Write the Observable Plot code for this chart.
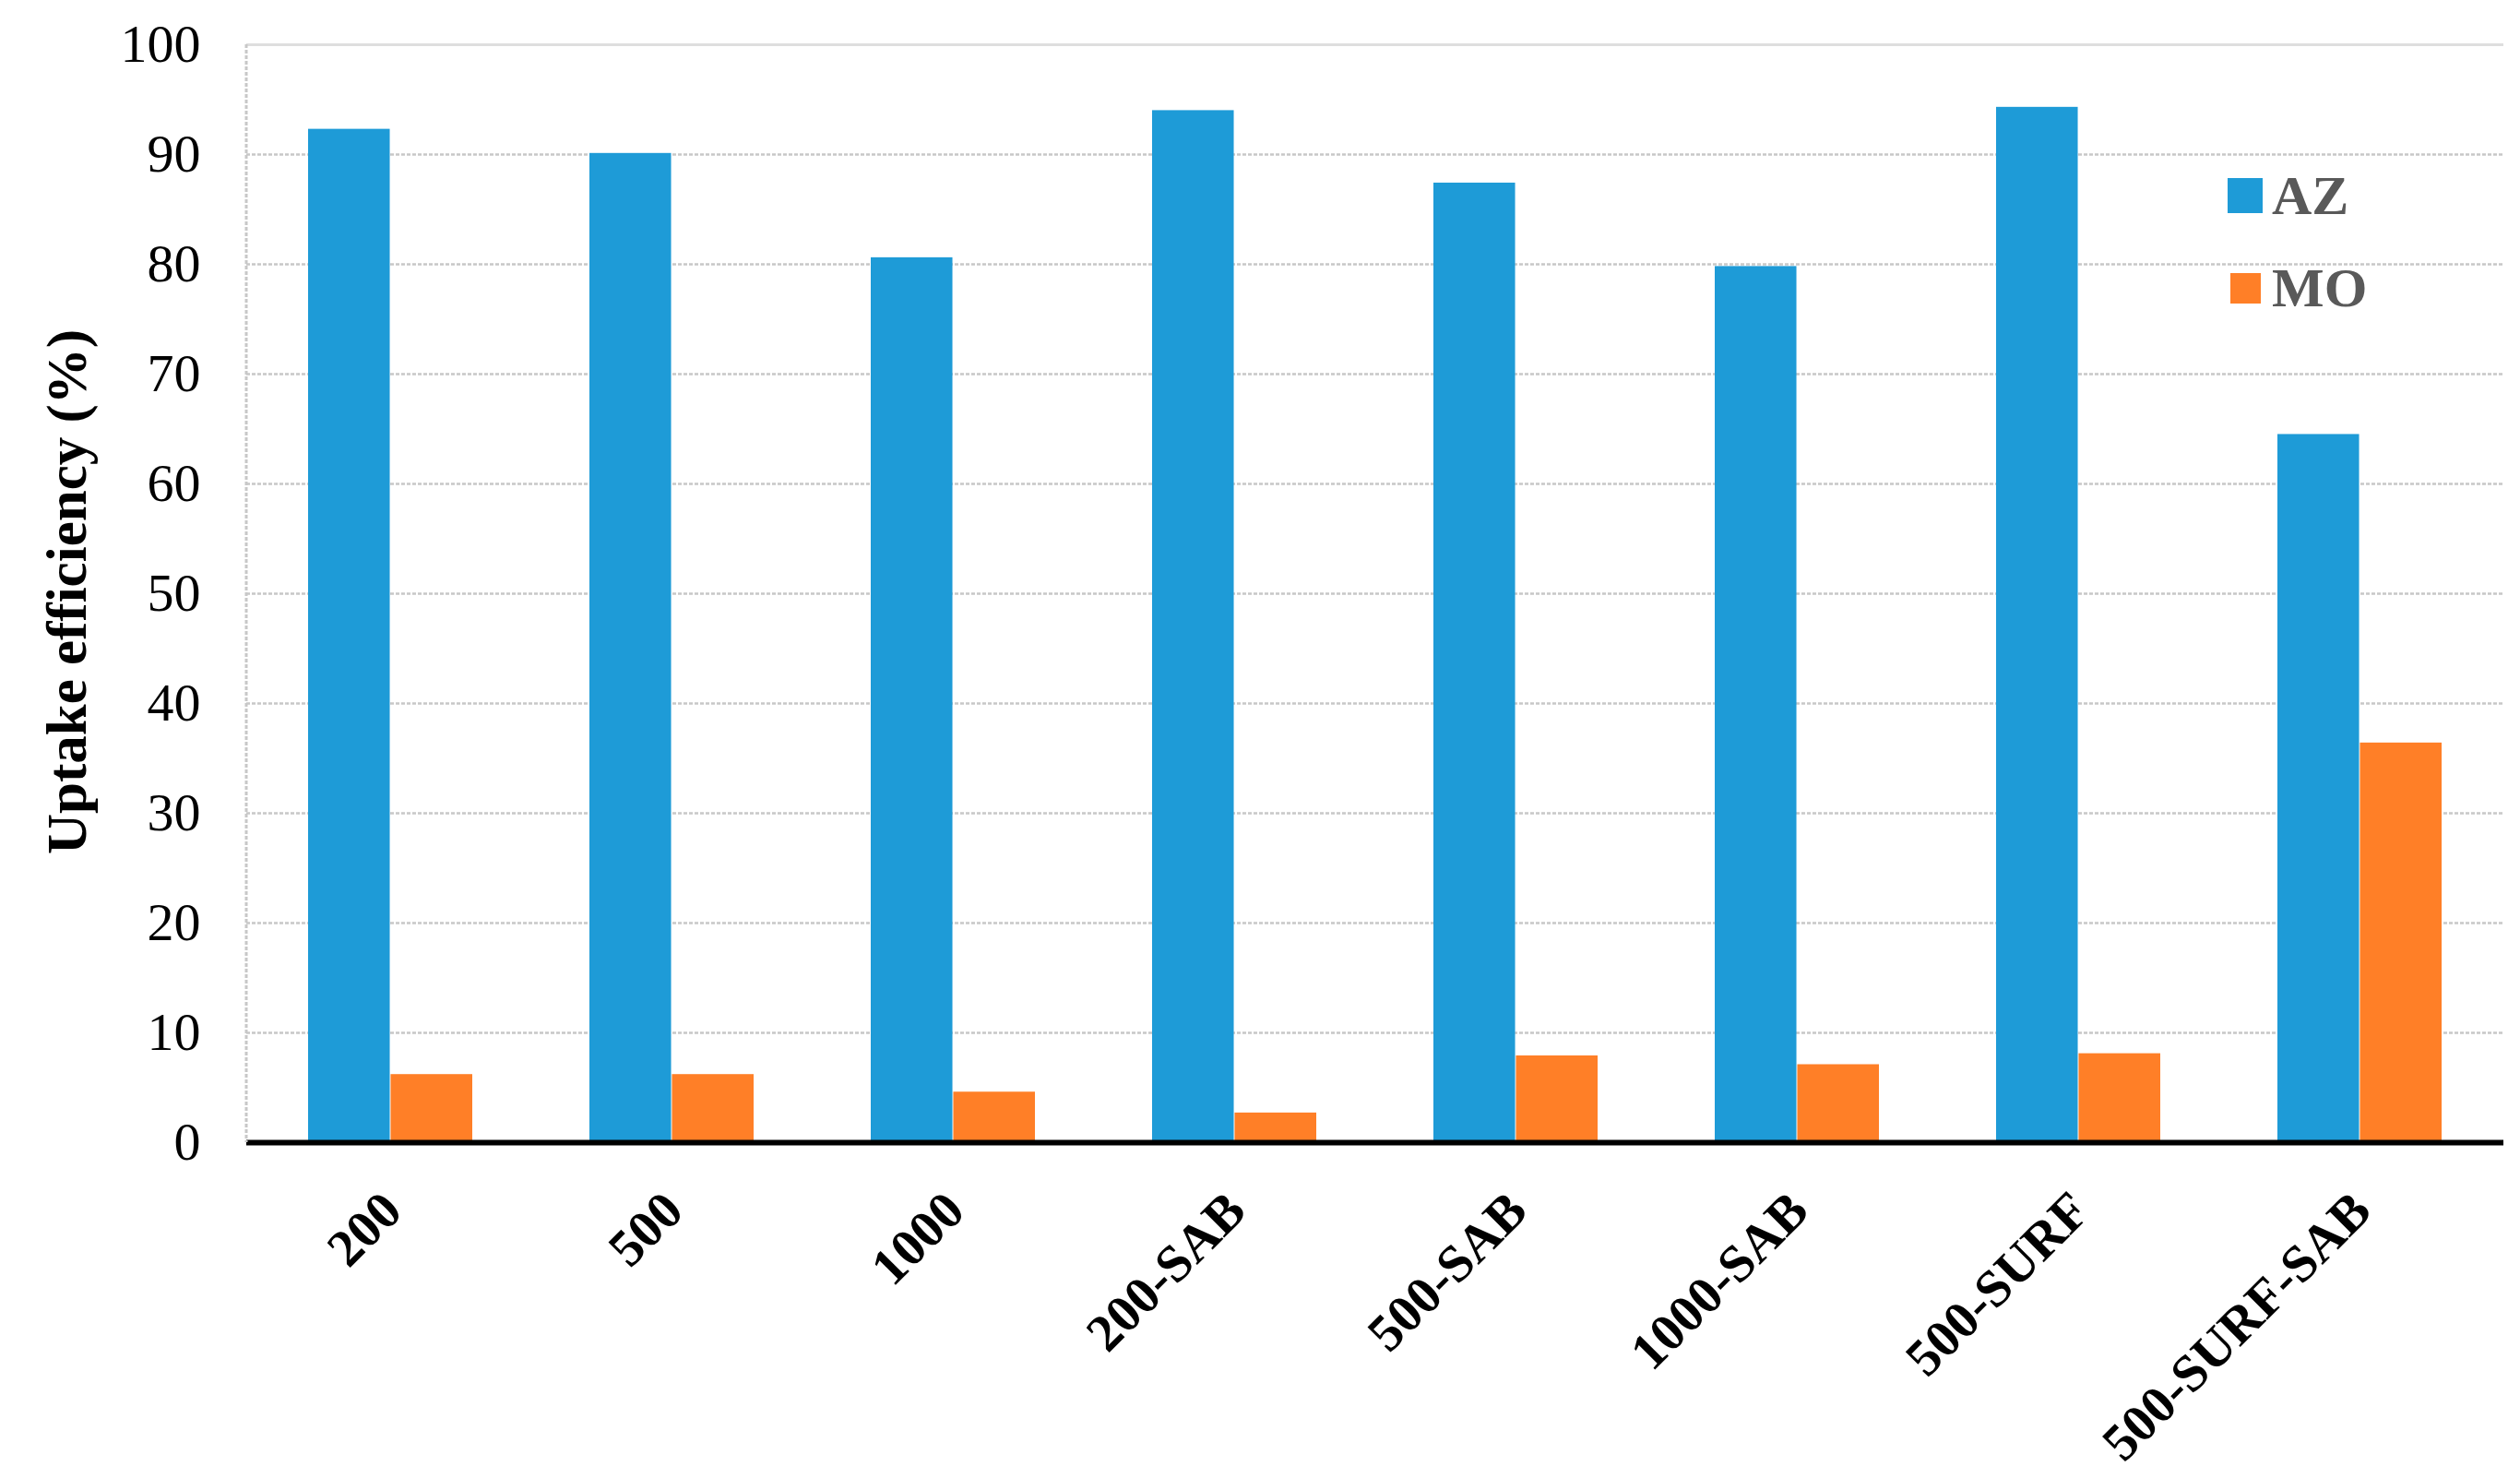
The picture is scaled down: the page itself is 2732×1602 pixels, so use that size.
<!DOCTYPE html>
<html>
<head>
<meta charset="utf-8">
<script src="https://cdn.jsdelivr.net/npm/d3@7"></script>
<script src="https://cdn.jsdelivr.net/npm/@observablehq/plot@0.6"></script>
<style>
  html, body { margin: 0; padding: 0; background: #fff; }
  #wrap { position: relative; width: 2732px; height: 1602px; }
  .legend { position: absolute; left: 2415px; top: 186px; font-family: "Liberation Serif", "Times New Roman", serif; font-weight: bold; font-size: 60px; color: #595959; }
  .legend .item { position: absolute; left: 0; display: flex; align-items: center; white-space: nowrap; height: 52px; }
  .legend .sw { display: inline-block; margin-right: 12px; }
</style>
</head>
<body>
<div id="wrap"></div>
<script>
const categories = ["200", "500", "1000", "200-SAB", "500-SAB", "1000-SAB", "500-SURF", "500-SURF-SAB"];
const seriesNames = ["AZ", "MO"];
const azValues = [92.3, 90.1, 80.6, 94.0, 87.4, 79.8, 94.3, 64.5];
const moValues = [6.2, 6.2, 4.6, 2.7, 7.9, 7.1, 8.1, 36.4];
const yTicks = [0, 10, 20, 30, 40, 50, 60, 70, 80, 90, 100];
const yTitle = "Uptake efficiency (%)";
const colors = ["#1E9BD7", "#FF7F27"];

const az = categories.map((c, i) => ({category: c, series: seriesNames[0], value: azValues[i]}));
const mo = categories.map((c, i) => ({category: c, series: seriesNames[1], value: moValues[i]}));

const W = 2732, H = 1602;
const mL = 267, mR = 18, mT = 48, mB = 364;
const padInner = 0.415;
const step = (W - mL - mR) / categories.length;
const half = step * (1 - padInner) / 2;
const font = "'Liberation Serif', 'Times New Roman', serif";

const chart = Plot.plot({
  width: W, height: H,
  marginLeft: mL, marginRight: mR, marginTop: mT, marginBottom: mB,
  style: {fontFamily: font, background: "white", color: "black", overflow: "visible"},
  x: {type: "band", domain: categories, paddingInner: padInner, paddingOuter: padInner / 2, axis: null},
  y: {domain: [0, 100], axis: null},
  marks: [
    Plot.ruleY(yTicks.filter(t => t > 0 && t < 100), {stroke: "#c8c8c8", strokeWidth: 2.5, strokeDasharray: "4,2"}),
    Plot.ruleY([100], {stroke: "#dedede", strokeWidth: 3}),
    Plot.barY(az, {x: "category", y: "value", fill: colors[0], insetRight: half}),
    Plot.barY(mo, {x: "category", y: "value", fill: colors[1], insetLeft: half}),
    Plot.ruleY([0], {stroke: "black", strokeWidth: 6}),
    Plot.axisY({ticks: yTicks, tickSize: 0, tickPadding: 50, fontSize: 58, label: null, tickFormat: d => String(d)}),
    Plot.text(categories, {x: d => d, frameAnchor: "bottom", dy: 64, dx: 2, rotate: -45, textAnchor: "end", lineAnchor: "middle", fontSize: 57, fontWeight: "bold", fill: "black"}),
    Plot.text([yTitle], {frameAnchor: "left", dx: -194, dy: -2, rotate: -90, textAnchor: "middle", lineAnchor: "middle", fontSize: 61, fontWeight: "bold", fill: "black"})
  ]
});

// left dotted border of the plot area
d3.select(chart).append("line")
  .attr("x1", mL).attr("x2", mL)
  .attr("y1", mT).attr("y2", H - mB)
  .attr("stroke", "#c8c8c8").attr("stroke-width", 3).attr("stroke-dasharray", "4,2");

const wrap = document.getElementById("wrap");
wrap.appendChild(chart);

// legend
const legend = document.createElement("div");
legend.className = "legend";
const tops = [0, 100];
const sizes = [38, 33];
seriesNames.forEach((name, i) => {
  const item = document.createElement("div");
  item.className = "item";
  item.style.top = tops[i] + "px";
  const sw = document.createElement("span");
  sw.className = "sw";
  sw.style.background = colors[i];
  sw.style.width = sizes[i] + "px";
  sw.style.height = sizes[i] + "px";
  sw.style.marginLeft = (i === 0 ? 0 : 3) + "px";
  sw.style.marginRight = (i === 0 ? 10 : 12) + "px";
  const t = document.createElement("span");
  t.textContent = name;
  item.appendChild(sw);
  item.appendChild(t);
  legend.appendChild(item);
});
wrap.appendChild(legend);
</script>
</body>
</html>
